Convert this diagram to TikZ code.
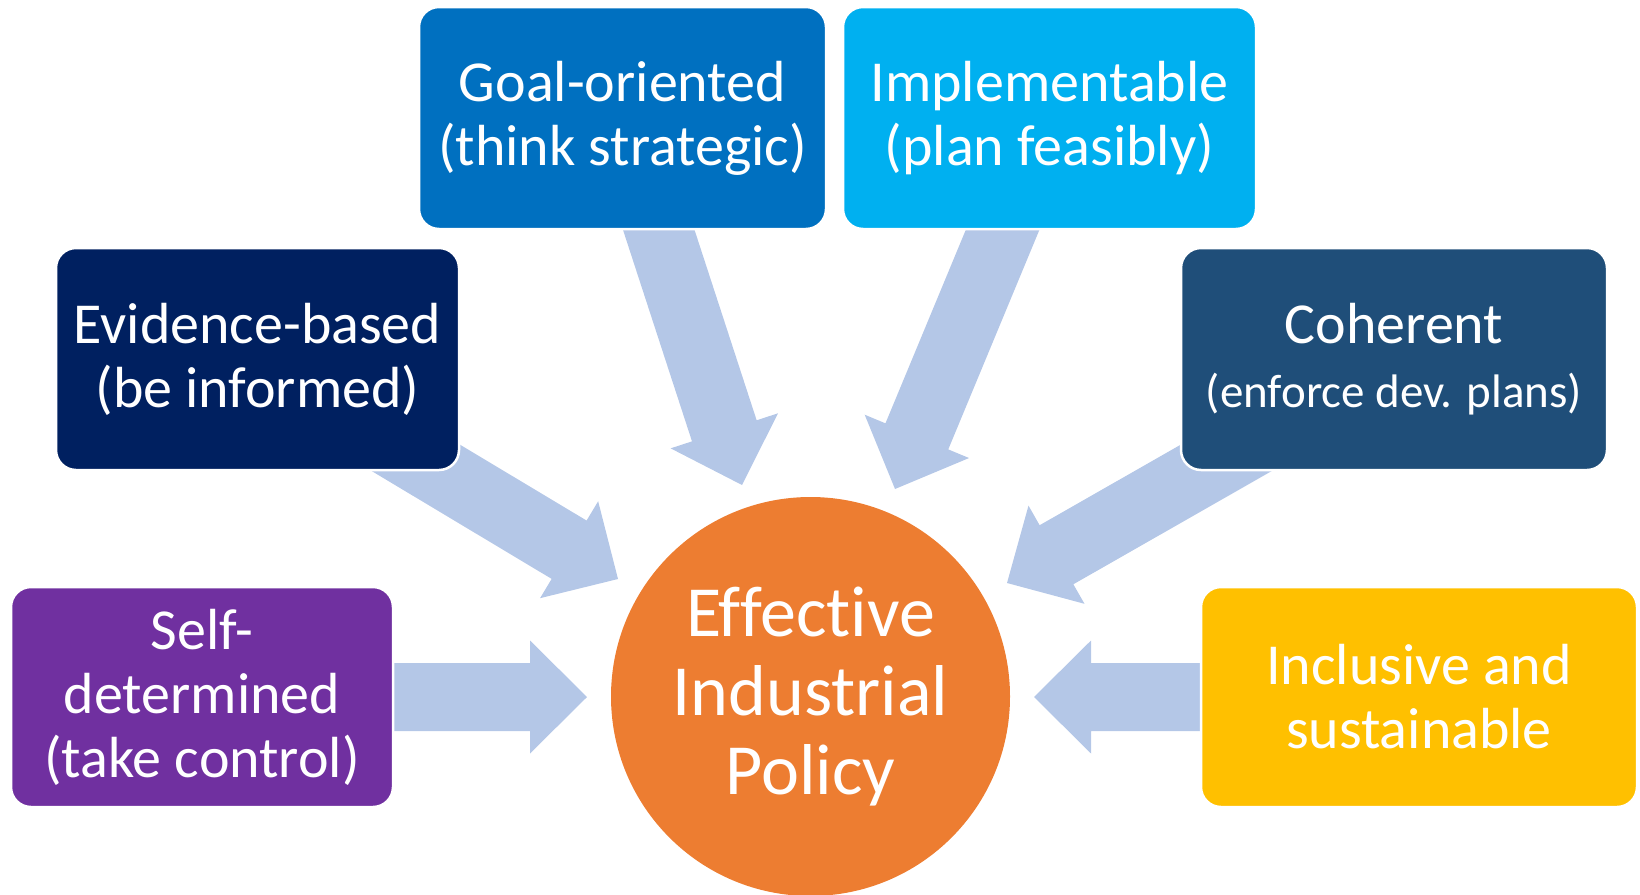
\documentclass[tikz,border=0pt]{standalone}
\usepackage{fontspec}
\setmainfont{Carlito}[Ligatures={NoCommon}]
\usetikzlibrary{calc}
\definecolor{cgoal}{HTML}{0070C0}
\definecolor{cimpl}{HTML}{00B0F0}
\definecolor{cevid}{HTML}{002060}
\definecolor{ccoh}{HTML}{1F4E79}
\definecolor{cself}{HTML}{7030A0}
\definecolor{cincl}{HTML}{FFC000}
\definecolor{corange}{HTML}{ED7D31}
\definecolor{arrowblue}{HTML}{B4C7E7}
\tikzset{
  box/.style={rounded corners=20pt, draw=white, line width=2.5pt, text=white,
    align=center, inner sep=0pt, font=\fontsize{58}{64}\selectfont},
  hub/.style={circle, fill=corange, inner sep=0pt, minimum size=399pt, text=white,
    align=center, font=\fontsize{72}{79}\selectfont},
  blockfill/.style={fill=arrowblue},
}
% block arrow from tail coordinate #1 to tip coordinate #2
\newcommand\blockarrow[2]{%
  \fill[blockfill] let \p1=(#1), \p2=(#2),
    \n1={atan2(\y2-\y1,\x2-\x1)}, \n2={veclen(\x2-\x1,\y2-\y1)} in
    [shift={(\p2)}, rotate=\n1]
    (0,0) -- (-57,56.5) -- (-57,34) -- (-\n2,34) -- (-\n2,-34)
    -- (-57,-34) -- (-57,-56.5) -- cycle;}
\begin{document}
\begin{tikzpicture}[x=1pt,y=-1pt]
\useasboundingbox (0,0) rectangle (1640,894);
% arrow ends
\coordinate (tailSelf) at (380,697);  \coordinate (tipSelf) at (587,697);
\coordinate (tailEvid) at (361,425);  \coordinate (tipEvid) at (618,579);
\coordinate (tailGoal) at (649,200);  \coordinate (tipGoal) at (742,485);
\coordinate (tailImpl) at (1010,212); \coordinate (tipImpl) at (895,489);
\coordinate (tailCoh) at (1268,434);  \coordinate (tipCoh) at (1007,583);
\coordinate (tailIncl) at (1215,697); \coordinate (tipIncl) at (1034,697);
\blockarrow{tailSelf}{tipSelf}
\blockarrow{tailEvid}{tipEvid}
\blockarrow{tailGoal}{tipGoal}
\blockarrow{tailImpl}{tipImpl}
\blockarrow{tailCoh}{tipCoh}
\blockarrow{tailIncl}{tipIncl}
% boxes
\node[box, fill=cgoal, minimum width=407pt, minimum height=222pt] (goal) at (622.5,118)
  {Goal-oriented\\(think strategic)};
\node[box, fill=cimpl, minimum width=413pt, minimum height=222pt] (impl) at (1049.5,118)
  {Implementable\\(plan feasibly)};
\node[box, fill=cevid, minimum width=403pt, minimum height=222pt] (evid) at (257.5,359)
  {Evidence-based\\(be informed)};
\node[box, fill=ccoh, minimum width=426pt, minimum height=222pt] (coh) at (1394,359)
  {Coherent\\\fontsize{47}{54}\selectfont(enforce dev. plans)};
\node[box, fill=cself, minimum width=382pt, minimum height=220pt] (self) at (202,697)
  {Self-\\determined\\(take control)};
\node[box, fill=cincl, minimum width=436pt, minimum height=220pt] (incl) at (1419,697)
  {Inclusive and\\sustainable};
% hub
\node[hub] (hub) at (810.5,696.5) {Effective\\Industrial\\Policy};
\end{tikzpicture}
\end{document}
